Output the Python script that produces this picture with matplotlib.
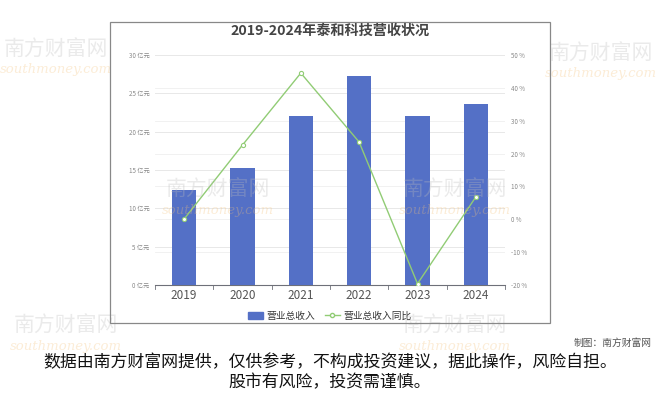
import matplotlib.pyplot as plt
from matplotlib.patches import Rectangle
from matplotlib.lines import Line2D

plt.rcParams['font.family'] = ['Noto Sans CJK SC', 'DejaVu Sans']

# 数据
years = ['2019', '2020', '2021', '2022', '2023', '2024']
revenue = [12.4, 15.3, 22.0, 27.3, 22.0, 23.6]      # 亿元
growth = [0.1, 22.6, 44.5, 23.5, -19.6, 6.8]        # %

left_ticks = [0, 5, 10, 15, 20, 25, 30]
right_ticks = [-20, -10, 0, 10, 20, 30, 40, 50]

bar_color = '#5470c6'
line_color = '#91cc75'

fig = plt.figure(figsize=(6.6, 3.95), dpi=100)
fig.patch.set_facecolor('white')

# 水印（淡）
for x, y in [(0.085, 0.875), (0.91, 0.865), (0.33, 0.52), (0.69, 0.52),
             (0.1, 0.175), (0.69, 0.175)]:
    fig.text(x, y, '南方财富网', fontsize=15, color='#bbbbbb', alpha=0.3,
             ha='center', va='center', zorder=0)
    fig.text(x, y - 0.052, 'southmoney.com', fontsize=9.5, color='#f5c27a',
             alpha=0.3, style='italic', family='DejaVu Serif',
             ha='center', va='center', zorder=0)

# 外框
frame = Rectangle((110 / 660, 1 - 323 / 395), 440 / 660, 301 / 395,
                  transform=fig.transFigure, fill=False, edgecolor='#888888',
                  linewidth=0.9)
fig.patches.append(frame)

ax = fig.add_axes([155 / 660, 1 - 285 / 395, 350 / 660, 230 / 395])
ax.patch.set_alpha(0)
x = list(range(len(years)))
ax.bar(x, revenue, width=0.42, color=bar_color, zorder=3)
ax.set_xlim(-0.5, len(years) - 0.5)
ax.set_ylim(0, 30)
ax.set_yticks(left_ticks)
ax.set_yticklabels([f'{t} 亿元' for t in left_ticks], fontsize=4.5, color='#888888')
ax.set_xticks(x)
ax.set_xticklabels(years, fontsize=8.5, color='#555555')
ax.tick_params(axis='y', length=0, pad=4)
ax.tick_params(axis='x', length=0, pad=3)
ax.grid(axis='y', color='#e8e8e8', linewidth=0.7, zorder=0)
for s in ['top', 'right', 'left']:
    ax.spines[s].set_visible(False)
ax.spines['bottom'].set_color('#6e7079')
ax.spines['bottom'].set_linewidth(0.8)
# 类目分隔刻度
for b in [i - 0.5 for i in range(len(years) + 1)]:
    ax.plot([b, b], [0, -0.5], color='#6e7079', linewidth=0.6, clip_on=False)

ax2 = ax.twinx()
ax2.set_ylim(-20, 50)
ax2.set_yticks(right_ticks)
ax2.set_yticklabels([f'{t} %' for t in right_ticks], fontsize=4.5, color='#888888')
ax2.tick_params(axis='y', length=0, pad=4)
for s in ['top', 'right', 'left', 'bottom']:
    ax2.spines[s].set_visible(False)
# 右轴网格画在柱子下面
lo, hi = ax2.get_ylim()
for t in right_ticks:
    ax.axhline((t - lo) / (hi - lo) * 30, color='#efefef', linewidth=0.6, zorder=0)
ax2.plot(x, growth, color=line_color, linewidth=1.0, marker='o', markersize=3,
         markerfacecolor='white', markeredgecolor=line_color, markeredgewidth=0.8,
         zorder=4)

fig.text(330 / 660, 1 - 31 / 395, '2019-2024年泰和科技营收状况', fontsize=10.2,
         fontweight='bold', color='#444444', ha='center', va='center')

# 图例
handles = [Rectangle((0, 0), 1, 1, color=bar_color),
           Line2D([0], [0], color=line_color, linewidth=1.0, marker='o', markersize=3,
                  markerfacecolor='white', markeredgecolor=line_color)]
fig.legend(handles, ['营业总收入', '营业总收入同比'], loc='center',
           bbox_to_anchor=(330 / 660, 1 - 316 / 395), ncol=2, frameon=False,
           fontsize=7, handlelength=1.5, handleheight=0.8, columnspacing=1.0,
           handletextpad=0.4, labelcolor='#333333')

fig.text(652 / 660, 1 - 343 / 395, '制图：南方财富网', fontsize=7, color='#555555',
         ha='right', va='center')
fig.text(330 / 660, 1 - 362 / 395, '数据由南方财富网提供，仅供参考，不构成投资建议，据此操作，风险自担。',
         fontsize=12.2, color='#111111', ha='center', va='center')
fig.text(330 / 660, 1 - 382 / 395, '股市有风险，投资需谨慎。',
         fontsize=12.2, color='#111111', ha='center', va='center')

fig.savefig('out.png', dpi=100)
